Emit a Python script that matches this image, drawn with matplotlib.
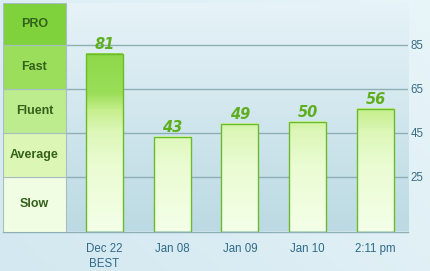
import numpy as np
import matplotlib
matplotlib.use("Agg")
import matplotlib.pyplot as plt
from matplotlib.colors import LinearSegmentedColormap, Normalize
from matplotlib.patches import Rectangle

# data
dates = ["Dec 22\nBEST", "Jan 08", "Jan 09", "Jan 10", "2:11 pm"]
speeds = [81, 43, 49, 50, 56]
grid_vals = [25, 45, 65, 85]
band_names = ["Slow", "Average", "Fluent", "Fast", "PRO"]
band_edges = [0, 25, 45, 65, 85, 104.1]
band_colors = ["#f0fde2", "#dcf6b6", "#bdec8e", "#9ade5c", "#7fd23c"]

W, H = 430, 271
fig = plt.figure(figsize=(W / 100, H / 100), dpi=100)

# background gradient for whole figure
bg = fig.add_axes([0, 0, 1, 1])
bg.set_axis_off()
bgc = LinearSegmentedColormap.from_list("bg", ["#d3e8f0", "#e8f5f9"])
xx = np.linspace(0, 1, 200)
yy = np.linspace(0, 1, 200)
X, Y = np.meshgrid(xx, yy)
bg.imshow(0.6 * X + 0.4 * Y, cmap=bgc, extent=[0, 1, 0, 1], aspect="auto", origin="lower")
bg.set_xlim(0, 1)
bg.set_ylim(0, 1)

# main axes
left, right, top, base = 3, 408, 3, 231.5
ax = fig.add_axes([left / W, (H - base) / H, (right - left) / W, (base - top) / H])
ax.patch.set_alpha(0)
ymax = band_edges[-1]
x = np.arange(len(dates))
xl, xr = -1.498, 4.48
ax.set_xlim(xl, xr)
ax.set_ylim(0, ymax)
band_r = xl + 63 / 67.75

# plot area gradient
plotc = LinearSegmentedColormap.from_list("pl", ["#bcdae3", "#e6f3f8"])
ax.imshow(np.linspace(0, 1, 100).reshape(-1, 1), cmap=plotc, origin="lower",
          extent=[band_r, xr, 0, ymax], aspect="auto", zorder=0)

# bands
for i, name in enumerate(band_names):
    y0, y1 = band_edges[i], band_edges[i + 1]
    ax.add_patch(Rectangle((xl, y0), band_r - xl, y1 - y0, facecolor=band_colors[i],
                           edgecolor="#a8bec2", lw=0.8, zorder=2))
    ax.text((xl + band_r) / 2, (y0 + y1) / 2, name, ha="center", va="center",
            fontsize=9, fontweight="bold", color="#33621a",
            family="Liberation Sans", zorder=3)

# grid lines
for g in grid_vals:
    ax.plot([band_r, xr], [g, g], color="#8fafb6", lw=1, zorder=1)
ax.plot([xl, xr], [0, 0], color="#8fafb6", lw=1, zorder=1, clip_on=False)

# bars with gradient in absolute value
stops = [(0, "#f4ffe8"), (30 / 85, "#eafcd2"), (45 / 85, "#dcf7b8"),
         (55 / 85, "#c6ef8e"), (63 / 85, "#9ade58"), (1, "#8ad846")]
barc = LinearSegmentedColormap.from_list("bar", stops)
norm = Normalize(0, 85)
bw = 37 / 67.75
for xi, v in zip(x, speeds):
    grad = norm(np.linspace(0, v, 200)).reshape(-1, 1)
    ax.imshow(grad, cmap=barc, vmin=0, vmax=1, origin="lower",
              extent=[xi - bw / 2, xi + bw / 2, 0, v], aspect="auto", zorder=4)
    ax.add_patch(Rectangle((xi - bw / 2, 0), bw, v, fill=False,
                           edgecolor="#6cbb2c", lw=1, zorder=5))
    ax.text(xi, v + 0.8, str(v), ha="center", va="bottom", fontsize=10.5,
            fontweight="bold", style="italic", color="#5fae1e",
            family="DejaVu Sans", zorder=6)

ax.set_xlim(xl, xr)
ax.set_ylim(0, ymax)
for s in ax.spines.values():
    s.set_visible(False)

ax.set_xticks(x)
ax.set_xticklabels(dates, fontsize=8.3, color="#2f6a88", family="Liberation Sans",
                   linespacing=1.3)
ax.tick_params(axis="x", length=0, pad=8.5)
ax.yaxis.tick_right()
ax.set_yticks(grid_vals)
ax.set_yticklabels([str(g) for g in grid_vals], fontsize=8.3, color="#3a6c84",
                   family="Liberation Sans")
ax.tick_params(axis="y", direction="out", length=0, pad=2)

fig.savefig("out.png", dpi=100)
